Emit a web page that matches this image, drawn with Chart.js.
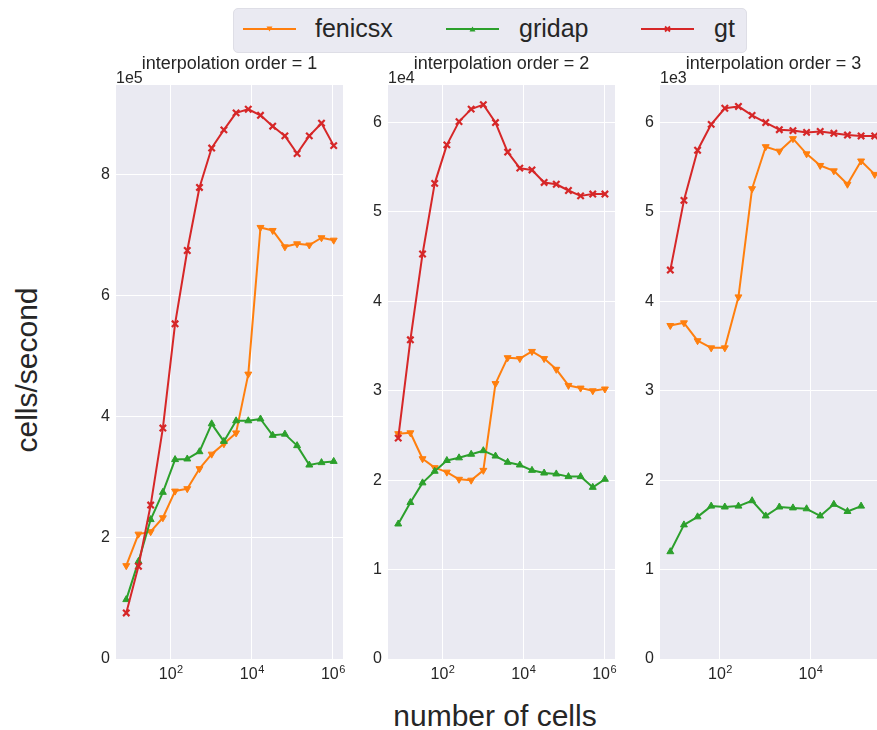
<!DOCTYPE html>
<html>
<head>
<meta charset="utf-8">
<script src="https://cdn.jsdelivr.net/npm/chart.js@4"></script>
<style>
  html, body { margin: 0; padding: 0; width: 877px; height: 730px; overflow: hidden; background: #fff; }
  body { position: relative; font-family: "Liberation Sans", Arial, sans-serif; color: #262626; }
  canvas { position: absolute; }
  #legend {
    position: absolute; left: 233px; top: 8px; width: 512px; height: 43px;
    background: #eaeaf2; border: 1px solid #dedee6; border-radius: 5px;
  }
  #legend svg { position: absolute; top: 13px; }
  #legend span { position: absolute; top: 4px; font-size: 25px; line-height: 30px; }
  .axlabel { position: absolute; font-size: 30px; line-height: 34px; white-space: nowrap; }
</style>
</head>
<body>

<div id="legend">
  <svg style="left:9px" width="53" height="14"><line x1="0" y1="7" x2="53" y2="7" stroke="#ff7f0e" stroke-width="2"/><polygon points="23.5,4.5 29.5,4.5 26.5,9.5" fill="#ff7f0e"/></svg>
  <span style="left:81px">fenicsx</span>
  <svg style="left:212px" width="53" height="14"><line x1="0" y1="7" x2="53" y2="7" stroke="#2ca02c" stroke-width="2"/><polygon points="23.5,9.5 29.5,9.5 26.5,4.5" fill="#2ca02c"/></svg>
  <span style="left:285px">gridap</span>
  <svg style="left:407px" width="53" height="14"><line x1="0" y1="7" x2="53" y2="7" stroke="#d62728" stroke-width="2"/><path d="M24 4.5 L29 9.5 M29 4.5 L24 9.5" stroke="#d62728" stroke-width="1.8"/></svg>
  <span style="left:480px">gt</span>
</div>

<div class="axlabel" style="left:27px;top:370px;transform:translate(-50%,-50%) rotate(-90deg)">cells/second</div>
<div class="axlabel" style="left:495px;top:716px;transform:translate(-50%,-50%)">number of cells</div>

<canvas id="c1" width="302" height="644" style="left:56px;top:45px"></canvas>
<canvas id="c2" width="302" height="644" style="left:328px;top:45px"></canvas>
<canvas id="c3" width="302" height="644" style="left:600px;top:45px"></canvas>

<script>
// number of cells (x values)
const cells = [8, 16, 32, 64, 128, 256, 512, 1024, 2048, 4096, 8192, 16384, 32768,
               65536, 131072, 262144, 524288, 1048576];

// interpolation order = 1
const fenicsx1 = [1.54e5, 2.06e5, 2.10e5, 2.33e5, 2.77e5, 2.81e5, 3.14e5, 3.38e5, 3.55e5, 3.73e5,
                  4.70e5, 7.12e5, 7.07e5, 6.80e5, 6.85e5, 6.83e5, 6.95e5, 6.91e5];
const gridap1  = [0.98e5, 1.61e5, 2.30e5, 2.75e5, 3.29e5, 3.30e5, 3.42e5, 3.88e5, 3.59e5, 3.93e5,
                  3.93e5, 3.96e5, 3.69e5, 3.71e5, 3.52e5, 3.20e5, 3.24e5, 3.26e5];
const gt1      = [0.76e5, 1.53e5, 2.54e5, 3.81e5, 5.53e5, 6.74e5, 7.78e5, 8.43e5, 8.73e5, 9.01e5,
                  9.07e5, 8.97e5, 8.79e5, 8.63e5, 8.34e5, 8.63e5, 8.84e5, 8.47e5];

// interpolation order = 2
const fenicsx2 = [2.52e4, 2.53e4, 2.24e4, 2.14e4, 2.09e4, 2.01e4, 2.00e4, 2.11e4, 3.08e4, 3.37e4,
                  3.36e4, 3.44e4, 3.36e4, 3.24e4, 3.06e4, 3.03e4, 3.00e4, 3.02e4];
const gridap2  = [1.51e4, 1.75e4, 1.97e4, 2.10e4, 2.22e4, 2.25e4, 2.29e4, 2.33e4, 2.27e4, 2.20e4,
                  2.17e4, 2.11e4, 2.08e4, 2.07e4, 2.04e4, 2.04e4, 1.92e4, 2.01e4];
const gt2      = [2.47e4, 3.57e4, 4.53e4, 5.32e4, 5.75e4, 6.01e4, 6.15e4, 6.20e4, 6.00e4, 5.67e4,
                  5.49e4, 5.47e4, 5.33e4, 5.31e4, 5.24e4, 5.18e4, 5.20e4, 5.20e4];

// interpolation order = 3 (shorter runs)
const fenicsx3 = [3.73e3, 3.76e3, 3.56e3, 3.48e3, 3.48e3, 4.05e3, 5.26e3, 5.73e3, 5.68e3, 5.82e3,
                  5.65e3, 5.52e3, 5.46e3, 5.31e3, 5.57e3, 5.42e3];
const gridap3  = [1.20e3, 1.50e3, 1.59e3, 1.71e3, 1.70e3, 1.71e3, 1.77e3, 1.60e3, 1.70e3, 1.69e3,
                  1.68e3, 1.60e3, 1.73e3, 1.65e3, 1.71e3];
const gt3      = [4.35e3, 5.13e3, 5.69e3, 5.98e3, 6.16e3, 6.18e3, 6.08e3, 6.00e3, 5.92e3, 5.91e3,
                  5.89e3, 5.90e3, 5.88e3, 5.86e3, 5.85e3, 5.85e3];

// tick labels
const xTicks12 = [1e2, 1e4, 1e6];
const xTicks3 = [1e2, 1e4];
const yTicks1 = [0, 2e5, 4e5, 6e5, 8e5];
const yTicks2 = [0, 1e4, 2e4, 3e4, 4e4, 5e4, 6e4];
const yTicks3 = [0, 1e3, 2e3, 3e3, 4e3, 5e3, 6e3];

const FONT = "'Liberation Sans', Arial, sans-serif";

const panelDecor = {
    id: 'panelDecor',
    beforeDraw(chart) {
        const a = chart.chartArea, ctx = chart.ctx;
        ctx.save();
        ctx.fillStyle = '#eaeaf2';
        ctx.fillRect(a.left, a.top, a.right - a.left, a.bottom - a.top);
        ctx.restore();
    },
    afterDraw(chart, args, opts) {
        const a = chart.chartArea, ctx = chart.ctx;
        ctx.save();
        ctx.fillStyle = '#262626';
        ctx.textBaseline = 'alphabetic';
        ctx.font = '18px ' + FONT;
        ctx.textAlign = 'center';
        ctx.fillText(opts.title, (a.left + a.right) / 2, a.top - 16);
        ctx.font = '16px ' + FONT;
        ctx.textAlign = 'left';
        ctx.fillText(opts.offset, a.left, a.top - 2);

        // log x tick labels as 10 with a raised exponent
        const xs = chart.scales.x;
        xs.ticks.forEach(t => {
            const px = xs.getPixelForValue(t.value);
            const exp = String(Math.round(Math.log10(t.value)));
            ctx.font = '16px ' + FONT;
            const wb = ctx.measureText('10').width;
            ctx.font = '11px ' + FONT;
            const we = ctx.measureText(exp).width;
            const x0 = px - (wb + we) / 2;
            ctx.font = '16px ' + FONT;
            ctx.fillText('10', x0, a.bottom + 20);
            ctx.font = '11px ' + FONT;
            ctx.fillText(exp, x0 + wb + 0.5, a.bottom + 14);
        });
        ctx.restore();
    }
};

function series(label, xs, ys, color, style, rot, order) {
    return {
        label: label,
        data: ys.map((v, i) => ({ x: xs[i], y: v })),
        borderColor: color,
        backgroundColor: color,
        borderWidth: 2,
        borderJoinStyle: 'round',
        pointStyle: style,
        pointRotation: rot,
        pointRadius: style === 'crossRot' ? 4.5 : 4,
        pointBorderWidth: style === 'crossRot' ? 2.2 : 1,
        pointBackgroundColor: color,
        pointBorderColor: color,
        order: order,
        tension: 0
    };
}

function makePanel(id, title, offset, scaleF, fen, gri, gtv, xMin, xMax, yMax, xTicks, yTicks) {
    new Chart(id, {
        type: 'line',
        data: {
            datasets: [
                series('fenicsx', cells, fen, '#ff7f0e', 'triangle', 180, 3),
                series('gridap', cells, gri, '#2ca02c', 'triangle', 0, 2),
                series('gt', cells, gtv, '#d62728', 'crossRot', 0, 1)
            ]
        },
        options: {
            responsive: false,
            animation: false,
            layout: { padding: { top: 40, right: 15, left: 0, bottom: 0 } },
            plugins: {
                legend: { display: false },
                tooltip: { enabled: false },
                panelDecor: { title: title, offset: offset }
            },
            scales: {
                x: {
                    type: 'logarithmic',
                    min: xMin,
                    max: xMax,
                    afterBuildTicks: (s) => { s.ticks = xTicks.map(v => ({ value: v })); },
                    afterFit: (s) => { s.height = 30; },
                    grid: { color: '#ffffff', lineWidth: 1, drawTicks: false },
                    border: { display: false },
                    ticks: { display: false }
                },
                y: {
                    min: 0,
                    max: yMax,
                    afterBuildTicks: (s) => { s.ticks = yTicks.map(v => ({ value: v })); },
                    afterFit: (s) => { s.width = 60; },
                    grid: { color: '#ffffff', lineWidth: 1, drawTicks: false },
                    border: { display: false },
                    ticks: {
                        padding: 6,
                        color: '#262626',
                        font: { family: FONT, size: 16 },
                        callback: (v) => String(Math.round(v / scaleF))
                    }
                }
            }
        },
        plugins: [panelDecor]
    });
}

makePanel('c1', 'interpolation order = 1', '1e5', 1e5, fenicsx1, gridap1, gt1,
    Math.pow(10, 0.65), Math.pow(10, 6.25), 9.47e5, xTicks12, yTicks1);
makePanel('c2', 'interpolation order = 2', '1e4', 1e4, fenicsx2, gridap2, gt2,
    Math.pow(10, 0.65), Math.pow(10, 6.27), 6.42e4, xTicks12, yTicks2);
makePanel('c3', 'interpolation order = 3', '1e3', 1e3, fenicsx3, gridap3, gt3,
    Math.pow(10, 0.675), Math.pow(10, 5.69), 6.42e3, xTicks3, yTicks3);
</script>
</body>
</html>
